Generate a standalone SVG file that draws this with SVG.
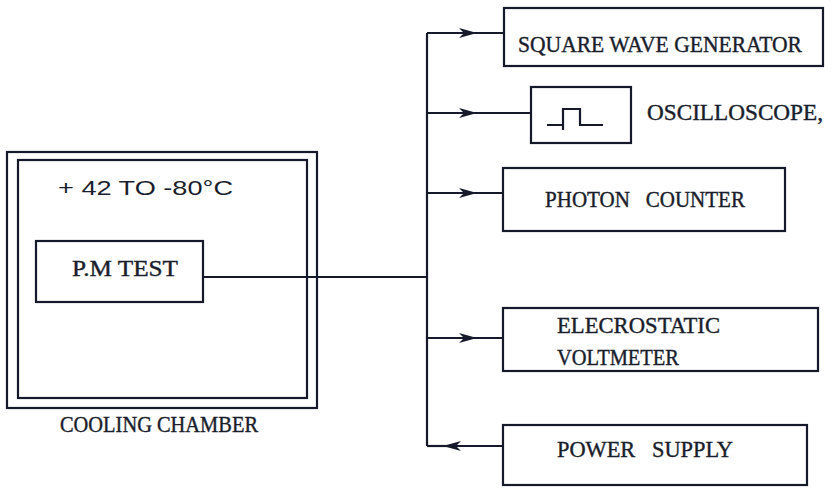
<svg xmlns="http://www.w3.org/2000/svg" width="832" height="489" viewBox="0 0 832 489">
<style>
.box{fill:none;stroke:#15192a;stroke-width:2.2}
.ln{fill:none;stroke:#15192a;stroke-width:2.2}
.t{font-family:"Liberation Serif",serif;font-size:23px;fill:#1a1e2c;stroke:#1a1e2c;stroke-width:0.4;white-space:pre}
.s{font-family:"Liberation Sans",sans-serif;font-size:21px;fill:#1a1e2c}
</style>
<defs>
<marker id="ah" viewBox="0 0 18 10" refX="16" refY="5" markerWidth="18" markerHeight="10" markerUnits="userSpaceOnUse" orient="auto">
<path d="M0,0 L18,5 L0,10 L5,5 Z" fill="#15192a"/>
</marker>
</defs>
<rect width="832" height="489" fill="#ffffff"/>
<g id="cooling-chamber">
<rect class="box" x="7" y="152" width="310" height="256"/>
<rect class="box" x="18" y="160" width="289" height="238"/>
<text class="s" x="58" y="195" textLength="175" lengthAdjust="spacingAndGlyphs">+ 42 TO -80°C</text>
<text class="t" x="60" y="432" textLength="198" lengthAdjust="spacingAndGlyphs">COOLING CHAMBER</text>
</g>
<g id="pm-test">
<rect class="box" x="36" y="241" width="167" height="61"/>
<text class="t" x="72" y="276" textLength="106" lengthAdjust="spacingAndGlyphs">P.M TEST</text>
</g>
<g id="square-wave-generator">
<rect class="box" x="504" y="8" width="319" height="58"/>
<text class="t" x="518" y="52" textLength="284" lengthAdjust="spacingAndGlyphs">SQUARE WAVE GENERATOR</text>
</g>
<g id="oscilloscope">
<rect class="box" x="531" y="87" width="100" height="56"/>
<path class="ln" d="M547,125 H563 V109 H580 V125 H603 M563,125 V130"/>
<text class="t" x="647" y="120" textLength="176" lengthAdjust="spacingAndGlyphs">OSCILLOSCOPE,</text>
</g>
<g id="photon-counter">
<rect class="box" x="503" y="168" width="282" height="63"/>
<text class="t" x="545" y="207" textLength="200" lengthAdjust="spacingAndGlyphs" xml:space="preserve">PHOTON   COUNTER</text>
</g>
<g id="electrostatic-voltmeter">
<rect class="box" x="503" y="308" width="315" height="63"/>
<text class="t" x="557" y="333" textLength="163" lengthAdjust="spacingAndGlyphs">ELECROSTATIC</text>
<text class="t" x="557" y="365" textLength="122" lengthAdjust="spacingAndGlyphs">VOLTMETER</text>
</g>
<g id="power-supply">
<rect class="box" x="503" y="425" width="304" height="60"/>
<text class="t" x="557" y="457" textLength="176" lengthAdjust="spacingAndGlyphs" xml:space="preserve">POWER   SUPPLY</text>
</g>
<g id="connectors">
<path class="ln" d="M203,277 H427"/>
<path class="ln" d="M427,33 V446"/>
<path class="ln" d="M427,33 H475" marker-end="url(#ah)"/>
<path class="ln" d="M470,33 H504"/>
<path class="ln" d="M427,113 H475" marker-end="url(#ah)"/>
<path class="ln" d="M470,113 H531"/>
<path class="ln" d="M427,193 H475" marker-end="url(#ah)"/>
<path class="ln" d="M470,193 H503"/>
<path class="ln" d="M427,338 H475" marker-end="url(#ah)"/>
<path class="ln" d="M470,338 H503"/>
<path class="ln" d="M503,446 H445" marker-end="url(#ah)"/>
<path class="ln" d="M450,446 H427"/>
</g>
</svg>
